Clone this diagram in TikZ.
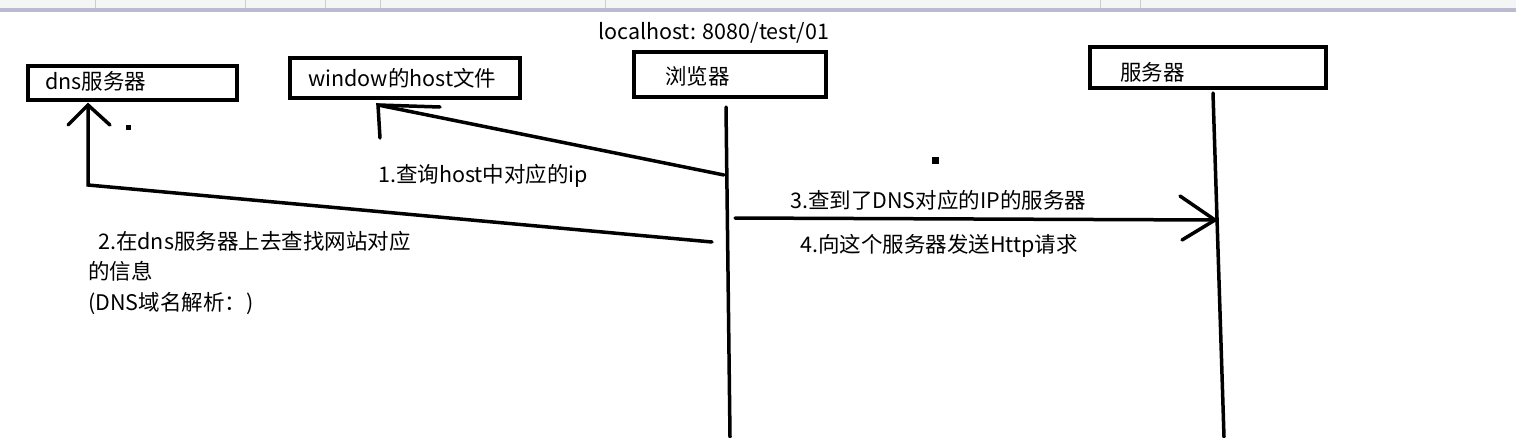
\documentclass[tikz,border=0pt]{standalone}
\usepackage{fontspec}
\setmainfont{Noto Sans CJK SC}
\begin{document}
\begin{tikzpicture}[x=1pt,y=-1pt,
  box/.style={draw,line width=4pt},
  ln/.style={line width=3.5pt,line cap=round},
  lbl/.style={anchor=west,inner sep=0pt,font=\fontsize{21.5}{24}\selectfont}]
\useasboundingbox (0,0) rectangle (1516,437);
\fill[gray!8] (0,0) rectangle (1516,8);
\fill[blue!20!gray!45] (0,8) rectangle (1516,12);
\foreach \x in {95,245,325,380,605,1100,1140}{\draw[gray!40] (\x,0)--(\x,8);}
\node[lbl] (url) at (598,33) {localhost: 8080/test/01};
\draw[box] (28,66) rectangle (237,100);
\node[lbl] (dns) at (45,81) {dns服务器};
\draw[box] (290,58) rectangle (520,98);
\node[lbl] (host) at (308,78) {window的host文件};
\draw[box] (634,52) rectangle (826,97);
\node[lbl] (br) at (665,76) {浏览器};
\draw[box] (1090,47) rectangle (1326,88);
\node[lbl] (srv) at (1120,72) {服务器};
\coordinate (bt) at (726,107); \coordinate (bb) at (730,437);
\coordinate (st) at (1213,93); \coordinate (sb) at (1224,437);
\draw[ln] (bt)--(bb);
\draw[ln] (st)--(sb);
% arrow 1
\coordinate (a1s) at (724,175); \coordinate (a1e) at (378,105);
\draw[ln] (a1s)--(a1e);
\draw[ln] (380,138)--(a1e)--(440,107);
\node[lbl] (t1) at (378,176) {1.查询host中对应的ip};
% arrow 2
\coordinate (a2s) at (712,242); \coordinate (a2m) at (88,185); \coordinate (a2e) at (88,105);
\draw[ln] (a2s)--(a2m)--(a2e);
\draw[ln] (68,125)--(a2e)--(110,125);
\node[lbl] (t2a) at (98,241) {2.在dns服务器上去查找网站对应};
\node[lbl] (t2b) at (88,271) {的信息};
\node[lbl] (t2c) at (88,304) {(DNS域名解析：)};
% arrow 3
\coordinate (a3s) at (735,218); \coordinate (a3e) at (1215,220);
\draw[ln] (a3s)--(a3e);
\draw[ln] (1180,196)--(a3e)--(1182,240);
\node[lbl] (t3) at (790,200) {3.查到了DNS对应的IP的服务器};
\node[lbl] (t4) at (800,246) {4.向这个服务器发送Http请求};
\fill (126,125) rectangle (131,130);
\fill (932,157) rectangle (939,164);
\end{tikzpicture}
\end{document}
